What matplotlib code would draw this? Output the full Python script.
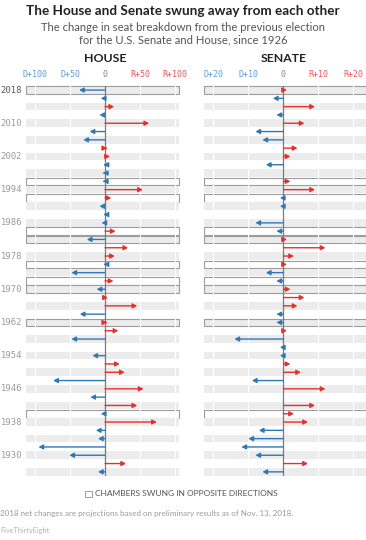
import numpy as np
import matplotlib.pyplot as plt
from matplotlib.patches import Rectangle

# выборы с 2018 по 1926, шаг 2 года
years = list(range(2018, 1924, -2))

# изменение мест: минус = D, плюс = R
house = [-37, -6, 13, -8, 63, -22, -31, 3, 7, -2, -3, -3, 54, 9, -8, -2, -5, 15,
         -26, 33, 14, -2, -48, 12, -12, 4, 46, -36, 3, 19, -48, 0, -18, 21, 28,
         -74, 55, -21, 46, -6, 74, -13, -10, -95, -51, 30, -10]
senate = [1, -3, 9, -2, 6, -8, -6, 4, 2, -5, 0, 2, 9, -1, -1, 0, -8, -2,
          1, 12, 3, 1, -5, -2, 2, 6, 4, -2, -2, 1, -14, -1, -1, 2, 5,
          -9, 12, 0, 9, 3, 7, -7, -10, -12, -8, 7, -6]

house_ticks = [-100, -50, 0, 50, 100]
house_tick_labels = ['D+100', 'D+50', '0', 'R+50', 'R+100']
senate_ticks = [-20, -10, 0, 10, 20]
senate_tick_labels = ['D+20', 'D+10', '0', 'R+10', 'R+20']
label_years = [2018, 2010, 2002, 1994, 1986, 1978, 1970, 1962, 1954, 1946, 1938, 1930]

BLUE = '#2f78b7'
RED = '#e4312f'
BLUE_TXT = '#5f9fd6'
RED_TXT = '#e9575b'
BAND = '#ececec'
EDGE = '#9c9c9c'
FONT = ['Lato', 'DejaVu Sans']

W, H = 366, 540
fig = plt.figure(figsize=(W / 100, H / 100), dpi=100)

top_px, bot_px = 85.9, 476.0
ax_h = fig.add_axes([26 / W, 1 - bot_px / H, 153 / W, (bot_px - top_px) / H])
ax_s = fig.add_axes([204 / W, 1 - bot_px / H, 162 / W, (bot_px - top_px) / H])

opposite = [h * s < 0 for h, s in zip(house, senate)]


def draw_panel(ax, values, xlim, ticks, tick_labels):
    n = len(values)
    ax.set_xlim(*xlim)
    ax.set_ylim(n - 0.5, -0.5)
    x0, x1 = xlim
    for i in range(n):
        fill = BAND if i % 2 == 0 else 'white'
        if i % 2 == 0:
            ax.add_patch(Rectangle((x0, i - 0.46), x1 - x0, 0.92, fc=BAND, ec='none', zorder=1))
        if opposite[i]:
            ax.add_patch(Rectangle((x0, i - 0.46), x1 - x0, 0.92, fc=fill, ec=EDGE,
                                   lw=0.8, zorder=1, clip_on=False))
    for t in ticks:
        if t != 0:
            ax.axvline(t, color='white', lw=0.8, zorder=2)
    ax.axvline(0, color='#7a7a7a', lw=0.9, zorder=3, ymin=-0.006, ymax=1.0)
    for i, v in enumerate(values):
        if v == 0:
            continue
        c = RED if v > 0 else BLUE
        ax.annotate('', xy=(v, i), xytext=(0, i),
                    arrowprops=dict(arrowstyle='-|>,head_length=0.26,head_width=0.14',
                                    color=c, lw=1.0, shrinkA=0, shrinkB=0),
                    zorder=4)
    for s in ax.spines.values():
        s.set_visible(False)
    ax.set_yticks([])
    ax.xaxis.tick_top()
    ax.set_xticks(ticks)
    ax.set_xticklabels(tick_labels, fontfamily='DejaVu Sans Mono', fontsize=6)
    ax.tick_params(axis='x', length=0, pad=4.8)
    for lab, t in zip(ax.get_xticklabels(), ticks):
        lab.set_color(BLUE_TXT if t < 0 else RED_TXT if t > 0 else '#888888')


draw_panel(ax_h, house, (-112.9, 105.7), house_ticks, house_tick_labels)
draw_panel(ax_s, senate, (-22.7, 23.6), senate_ticks, senate_tick_labels)

for i, y in enumerate(years):
    if y in label_years:
        ax_h.text(-0.025, i, str(y), transform=ax_h.get_yaxis_transform(),
                  ha='right', va='center', fontfamily='DejaVu Sans Mono', fontsize=6.4,
                  color='#555555' if y == 2018 else '#9a9a9a')

fig.text(0.5, 1 - 11 / H, 'The House and Senate swung away from each other',
         ha='center', va='center', fontsize=9.7, fontweight='bold', color='#222222',
         family=FONT)
fig.text(0.5, 1 - 33.5 / H, 'The change in seat breakdown from the previous election\n'
         'for the U.S. Senate and House, since 1926',
         ha='center', va='center', fontsize=8.1, color='#555555', linespacing=1.1,
         family=FONT)
fig.text(105 / W, 1 - 59 / H, 'HOUSE', ha='center', va='center',
         fontsize=8.8, fontweight='bold', color='#222222', family=FONT)
fig.text(283.3 / W, 1 - 59 / H, 'SENATE', ha='center', va='center',
         fontsize=8.8, fontweight='bold', color='#222222', family=FONT)

# легенда
fig.patches.append(Rectangle((85 / W, 1 - 497 / H), 6.5 / W, 6.5 / H, fc='white',
                             ec=EDGE, lw=0.7, transform=fig.transFigure))
fig.text(95 / W, 1 - 493.5 / H, 'CHAMBERS SWUNG IN OPPOSITE DIRECTIONS',
         ha='left', va='center', fontsize=6.0, color='#555555', family=FONT)

fig.text(0.0, 1 - 513.5 / H,
         '2018 net changes are projections based on preliminary results as of Nov. 13, 2018.',
         ha='left', va='center', fontsize=5.8, color='#9a9a9a', family=FONT)
fig.text(0.0, 1 - 531 / H, 'FiveThirtyEight', ha='left', va='center',
         fontsize=5.3, color='#b5b5b5', family=FONT)

fig.savefig('out.png', dpi=100)
